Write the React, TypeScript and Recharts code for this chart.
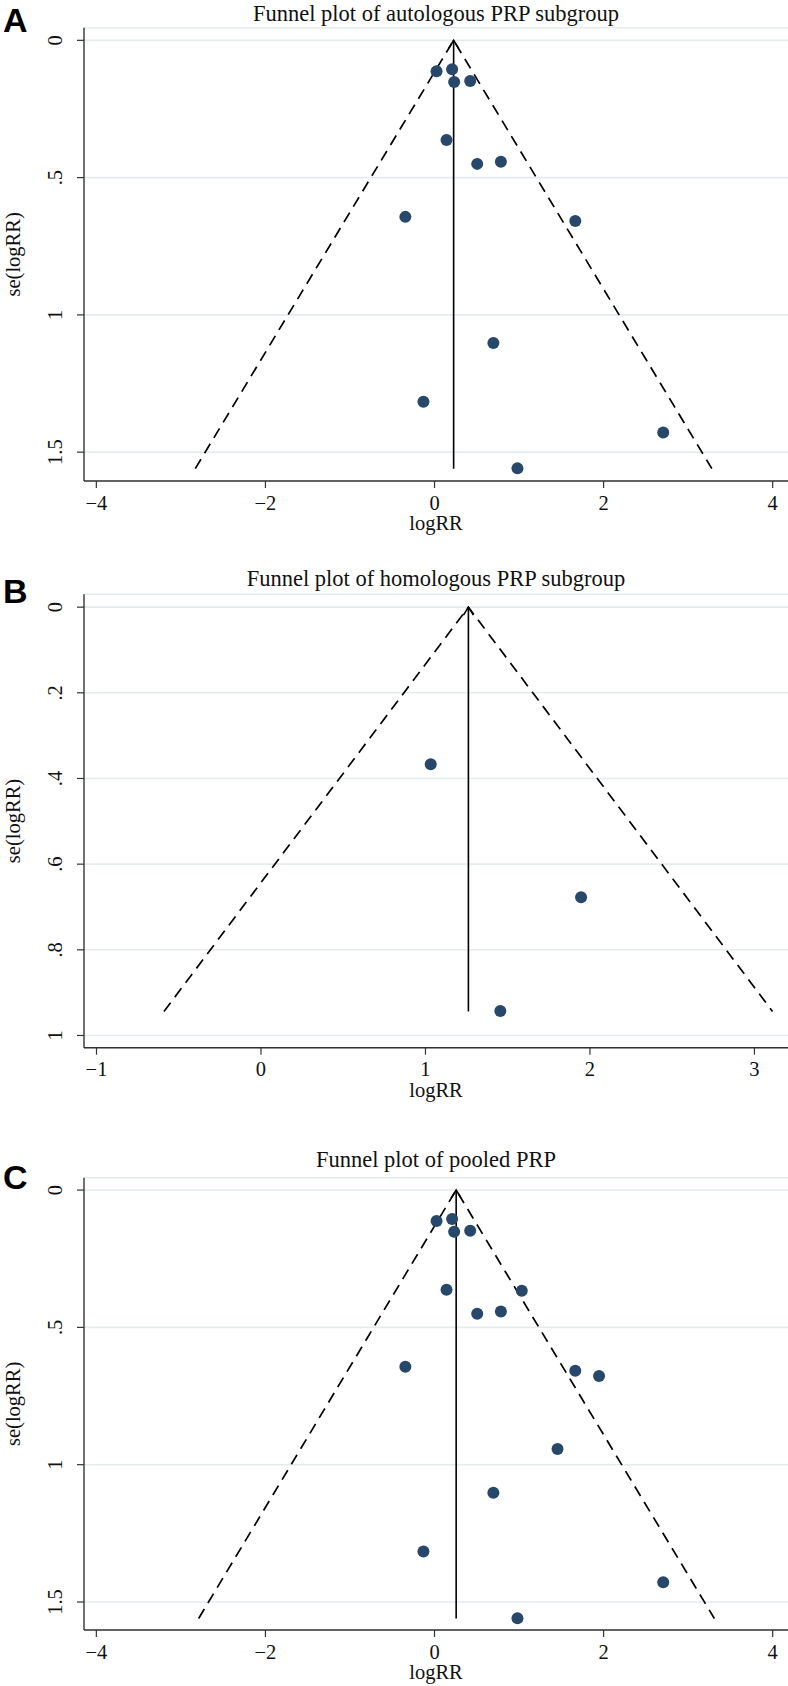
import { ScatterChart, Scatter, XAxis, YAxis, CartesianGrid } from 'recharts'

type Study = { logRR: number; se: number }

// study estimates, autologous PRP subgroup
const autologous: Study[] = [
  { logRR: 0.024, se: 0.113 },
  { logRR: 0.208, se: 0.105 },
  { logRR: 0.232, se: 0.152 },
  { logRR: 0.422, se: 0.148 },
  { logRR: 0.142, se: 0.363 },
  { logRR: 0.505, se: 0.45 },
  { logRR: 0.785, se: 0.442 },
  { logRR: -0.345, se: 0.643 },
  { logRR: 1.665, se: 0.658 },
  { logRR: 0.696, se: 1.102 },
  { logRR: -0.131, se: 1.316 },
  { logRR: 2.705, se: 1.428 },
  { logRR: 0.981, se: 1.559 },
]

// study estimates, homologous PRP subgroup
const homologous: Study[] = [
  { logRR: 1.032, se: 0.367 },
  { logRR: 1.946, se: 0.677 },
  { logRR: 1.455, se: 0.943 },
]

const pooled: Study[] = [...autologous, ...homologous]

// summary effect line and pseudo 95% limits (left end, apex, right end)
const effectA: Study[] = [{ logRR: 0.226, se: 0 }, { logRR: 0.226, se: 1.56 }]
const limitsA: Study[] = [{ logRR: -2.83, se: 1.56 }, { logRR: 0.226, se: 0 }, { logRR: 3.28, se: 1.56 }]
const effectB: Study[] = [{ logRR: 1.261, se: 0 }, { logRR: 1.261, se: 0.944 }]
const limitsB: Study[] = [{ logRR: -0.59, se: 0.944 }, { logRR: 1.261, se: 0 }, { logRR: 3.11, se: 0.944 }]
const effectC: Study[] = [{ logRR: 0.256, se: 0 }, { logRR: 0.256, se: 1.56 }]
const limitsC: Study[] = [{ logRR: -2.79, se: 1.56 }, { logRR: 0.256, se: 0 }, { logRR: 3.31, se: 1.56 }]

const xTicksWide = [-4, -2, 0, 2, 4]
const xTicksB = [-1, 0, 1, 2, 3]
const yTicksWide = [0, 0.5, 1, 1.5]
const yTicksB = [0, 0.2, 0.4, 0.6, 0.8, 1]

const xDomainWide: [number, number] = [-4.146, 4.181]
const xDomainB: [number, number] = [-1.076, 3.204]
const yDomainA: [number, number] = [-0.046, 1.605]
const yDomainB: [number, number] = [-0.03, 1.0285]
const yDomainC: [number, number] = [-0.045, 1.602]

const W = 788
const AXIS_X = 84
const SERIF = '"Liberation Serif", "Times New Roman", serif'
const NAVY = '#27476b'
const INK = '#111'

const fmtX = (v: number) => (v < 0 ? `\u2212${Math.abs(v)}` : `${v}`)
const fmtY = (v: number) => (v === 0 ? '0' : `${v}`.replace(/^0\./, '.'))

const XTick = (p: any) => (
  <text x={p.x} y={p.y} dy="0.71em" textAnchor="middle" fontFamily={SERIF} fontSize={20.5} fill={INK}>
    {fmtX(p.payload.value)}
  </text>
)

const YTick = (p: any) => (
  <text
    x={p.x}
    y={p.y}
    transform={`rotate(-90 ${p.x} ${p.y})`}
    textAnchor="middle"
    fontFamily={SERIF}
    fontSize={20.5}
    fill={INK}
  >
    {fmtY(p.payload.value)}
  </text>
)

const Dot = (p: any) => <circle cx={p.cx} cy={p.cy} r={6} fill={NAVY} />
const Blank = () => <g />
// open arrowhead on top of the summary line
const Arrow = (p: any) =>
  p.payload && p.payload.se === 0 ? (
    <path
      d={`M${p.cx - 5},${p.cy + 8} L${p.cx},${p.cy} L${p.cx + 5},${p.cy + 8}`}
      stroke="#000"
      strokeWidth={1.6}
      fill="none"
    />
  ) : (
    <g />
  )

interface PanelProps {
  top: number
  height: number
  plotTop: number
  plotBottom: number
  letter: string
  letterY: number
  title: string
  titleY: number
  points: Study[]
  effect: Study[]
  limits: Study[]
  xDomain: [number, number]
  xTicks: number[]
  yDomain: [number, number]
  yTicks: number[]
}

function FunnelPanel(props: PanelProps) {
  const { top, height, plotTop, plotBottom } = props
  const mid = (plotTop + plotBottom) / 2
  const cx = (AXIS_X + W) / 2

  return (
    <div style={{ position: 'absolute', left: 0, top, width: W, height }}>
      <ScatterChart width={W} height={height} margin={{ top: plotTop, right: 0, bottom: 0, left: 0 }}>
        <CartesianGrid vertical={false} stroke="#e5ecee" strokeWidth={1.6} />
        <XAxis
          type="number"
          dataKey="logRR"
          domain={props.xDomain}
          ticks={props.xTicks}
          allowDataOverflow
          interval={0}
          height={height - plotBottom}
          tickSize={7}
          tickMargin={7}
          axisLine={{ stroke: '#333', strokeWidth: 1.6 }}
          tickLine={{ stroke: '#333', strokeWidth: 1.2 }}
          tick={<XTick />}
        />
        <YAxis
          type="number"
          dataKey="se"
          reversed
          domain={props.yDomain}
          ticks={props.yTicks}
          allowDataOverflow
          interval={0}
          width={AXIS_X}
          tickSize={7}
          tickMargin={15}
          axisLine={{ stroke: '#111', strokeWidth: 1.2 }}
          tickLine={{ stroke: '#333', strokeWidth: 1.2 }}
          tick={<YTick />}
        />
        <Scatter
          data={props.limits}
          line={{ stroke: '#000', strokeWidth: 1.7, strokeDasharray: '11 7' }}
          shape={Blank}
          isAnimationActive={false}
        />
        <Scatter
          data={props.effect}
          line={{ stroke: '#000', strokeWidth: 1.6 }}
          shape={Arrow}
          isAnimationActive={false}
        />
        <Scatter data={props.points} shape={Dot} isAnimationActive={false} />
      </ScatterChart>
      <svg
        width={W}
        height={height}
        style={{ position: 'absolute', left: 0, top: 0, pointerEvents: 'none' }}
      >
        <text x={3} y={props.letterY} fontFamily='"Liberation Sans", Arial, sans-serif' fontWeight={700} fontSize={34} fill="#000">
          {props.letter}
        </text>
        <text x={cx} y={props.titleY} textAnchor="middle" fontFamily={SERIF} fontSize={22.5} fill={INK}>
          {props.title}
        </text>
        <text x={cx} y={plotBottom + 49} textAnchor="middle" fontFamily={SERIF} fontSize={20.5} fill={INK}>
          logRR
        </text>
        <text
          x={20}
          y={mid}
          transform={`rotate(-90 20 ${mid})`}
          textAnchor="middle"
          fontFamily={SERIF}
          fontSize={20.5}
          fill={INK}
        >
          se(logRR)
        </text>
      </svg>
    </div>
  )
}

export default function App() {
  return (
    <div style={{ position: 'absolute', left: 0, top: 0, width: W, height: 1686, background: '#fff' }}>
      <FunnelPanel
        top={0}
        height={545}
        plotTop={27.7}
        plotBottom={481}
        letter="A"
        letterY={32}
        title="Funnel plot of autologous PRP subgroup"
        titleY={20.6}
        points={autologous}
        effect={effectA}
        limits={limitsA}
        xDomain={xDomainWide}
        xTicks={xTicksWide}
        yDomain={yDomainA}
        yTicks={yTicksWide}
      />
      <FunnelPanel
        top={560}
        height={550}
        plotTop={34.3}
        plotBottom={487.7}
        letter="B"
        letterY={43}
        title="Funnel plot of homologous PRP subgroup"
        titleY={25.5}
        points={homologous}
        effect={effectB}
        limits={limitsB}
        xDomain={xDomainB}
        xTicks={xTicksB}
        yDomain={yDomainB}
        yTicks={yTicksB}
      />
      <FunnelPanel
        top={1120}
        height={566}
        plotTop={57.7}
        plotBottom={510}
        letter="C"
        letterY={69}
        title="Funnel plot of pooled PRP"
        titleY={47}
        points={pooled}
        effect={effectC}
        limits={limitsC}
        xDomain={xDomainWide}
        xTicks={xTicksWide}
        yDomain={yDomainC}
        yTicks={yTicksWide}
      />
    </div>
  )
}
